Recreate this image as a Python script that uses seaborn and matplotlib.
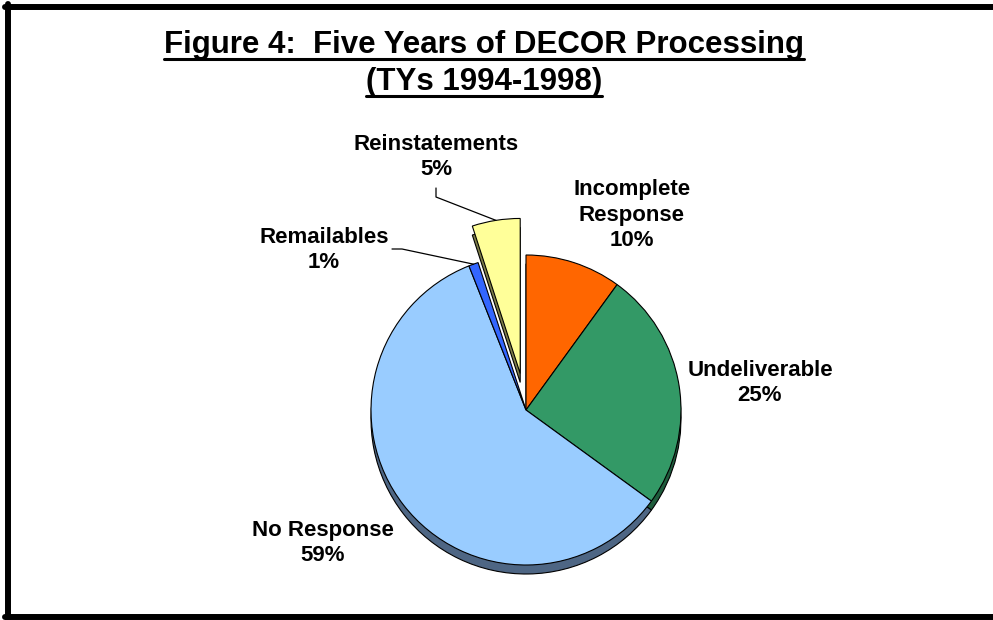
import numpy as np
import matplotlib
matplotlib.use("Agg")
import matplotlib.pyplot as plt
import seaborn as sns
from matplotlib.lines import Line2D

sns.set_theme(style="white")
plt.rcParams['font.family'] = ['Liberation Sans', 'DejaVu Sans']

# ---- data ----
categories = ["Incomplete\nResponse", "Undeliverable", "No Response", "Remailables", "Reinstatements"]
values = [10, 25, 59, 1, 5]
pct_labels = ["10%", "25%", "59%", "1%", "5%"]
colors = ["#FF6600", "#339966", "#99CCFF", "#3366FF", "#FFFF99"]
side_colors = ["#8F3A00", "#1E5C3C", "#4E6684", "#1F3C99", "#7F7F4A"]
title_lines = ["Figure 4:  Five Years of DECOR Processing", "(TYs 1994-1998)"]

W, H = 993, 620
fig = plt.figure(figsize=(W / 100, H / 100), dpi=100)
fig.patch.set_facecolor("white")
ax = fig.add_axes([0, 0, 1, 1])

def Y(y):
    return H - y

cx, cy, R = 526, Y(410), 155
depth = 9
explode = [0, 0, 0, 0, 37]
wp = dict(edgecolor="black", linewidth=0.8)

# side (3D depth) layer
ax.pie(values, colors=side_colors, startangle=90, counterclock=False,
       center=(cx, cy - depth), radius=R, explode=explode, wedgeprops=wp)
# top layer
wedges, _ = ax.pie(values, colors=colors, startangle=90, counterclock=False,
                   center=(cx, cy), radius=R, explode=explode, wedgeprops=wp)

ax.set_xlim(0, W)
ax.set_ylim(0, H)
ax.set_aspect("equal")
ax.axis("off")

# labels
label_pos = {0: (632, 215), 1: (760, 383), 2: (323, 543), 3: (324, 250), 4: (436, 157)}
for i, (cat, p) in enumerate(zip(categories, pct_labels)):
    x, y = label_pos[i]
    ax.text(x, Y(y), f"{cat}\n{p}", ha="center", va="center", multialignment="center",
            fontsize=16, fontweight="bold", color="black", linespacing=1.28)

# leader lines (elbow start near label, end at wedge arc midpoint)
elbows = {3: [(392, 249), (402, 249)], 4: [(436, 188), (436, 197)]}
for i, pts in elbows.items():
    w = wedges[i]
    tm = np.deg2rad((w.theta1 + w.theta2) / 2)
    ex = w.center[0] + w.r * np.cos(tm)
    ey = w.center[1] + w.r * np.sin(tm)
    xs = [p[0] for p in pts] + [ex]
    ys = [Y(p[1]) for p in pts] + [ey]
    ax.plot(xs, ys, color="black", lw=0.9, zorder=5)

# title with underline
baselines = [53, 90]
fig.canvas.draw()
renderer = fig.canvas.get_renderer()
for line, b in zip(title_lines, baselines):
    t = fig.text(484 / W, 1 - b / H, line, ha="center", va="baseline",
                 fontsize=22.5, fontweight="bold", color="black")
    bb = t.get_window_extent(renderer=renderer)
    uy = 1 - (b + 6) / H
    fig.add_artist(Line2D([bb.x0 / W, bb.x1 / W], [uy, uy], color="black", lw=2.2,
                          transform=fig.transFigure))

# frame
fl = 4.3
fig.add_artist(Line2D([8 / W, 8 / W], [1 - 4 / H, 1 - 620 / H], color="black", lw=fl, transform=fig.transFigure))
fig.add_artist(Line2D([5 / W, 1], [1 - 7 / H, 1 - 7 / H], color="black", lw=fl, transform=fig.transFigure))
fig.add_artist(Line2D([5 / W, 1], [1 - 617 / H, 1 - 617 / H], color="black", lw=fl, transform=fig.transFigure))

fig.savefig("out.png", dpi=100, facecolor="white")
